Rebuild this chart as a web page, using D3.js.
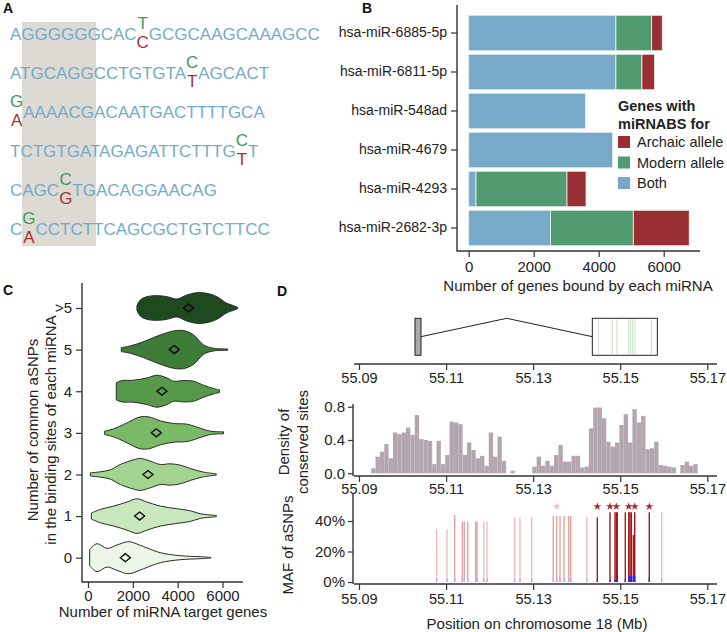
<!DOCTYPE html>
<html><head><meta charset="utf-8">
<script src="https://cdn.jsdelivr.net/npm/d3@7"></script>
<style>
body{margin:0;background:#fff}
text{font-family:"Liberation Sans",Arial,Helvetica,sans-serif}
</style>
</head><body>
<svg id="c" width="727" height="632"></svg>
<script>
// ---------------- DATA ----------------
// Panel A: sequences
const seqBefore = ["AGGGGGGCAC","ATGCAGGCCTGTGTA","","TCTGTGATAGAGATTCTTTG","CAGC","C"];
const snpModern = ["T","C","G","C","C","G"];
const snpArchaic = ["C","T","A","T","G","A"];
const seqAfter = ["GCGCAAGCAAAGCC","AGCACT","AAAACGACAATGACTTTTGCA","T","TGACAGGAACAG","CCTCTTCAGCGCTGTCTTCC"];

// Panel B
const mirnas = ["hsa-miR-6885-5p","hsa-miR-6811-5p","hsa-miR-548ad","hsa-miR-4679","hsa-miR-4293","hsa-miR-2682-3p"];
const bothCounts = [4530,4530,3590,4430,225,2520];
const modernCounts = [1100,800,0,0,2800,2545];
const archaicCounts = [325,390,0,0,585,1720];
const xTicksB = [0,2000,4000,6000];
const legendLabels = ["Archaic allele","Modern allele","Both"];

// Panel C: violin profiles [genes, density]
const snpCategories = ["0","1","2","3","4","5",">5"];
const violin0 = [[74,24],[401,42],[847,28],[1293,38],[1813,48],[2482,33],[3225,15],[4116,6],[5008,3],[5483,1]];
const violin1 = [[149,9],[550,20],[1144,30],[1739,42],[2184,52],[2630,42],[3225,30],[3968,22],[4562,16],[5008,7],[5721,2]];
const violin2 = [[104,5],[550,8],[996,14],[1441,30],[2036,44],[2333,48],[2779,40],[3225,30],[3670,32],[4116,28],[4562,18],[5157,7],[5721,2]];
const violin3 = [[743,5],[1144,12],[1590,25],[2036,40],[2333,48],[2705,48],[3225,36],[3819,28],[4413,26],[5008,14],[5454,5],[6048,3]];
const violin4 = [[1263,26],[1516,32],[2036,33],[2630,40],[3076,48],[3522,40],[3819,30],[4265,32],[4711,30],[5157,18],[5602,8],[5870,4]];
const violin5 = [[1486,6],[1887,11],[2482,24],[3225,44],[3819,56],[4265,57],[4711,44],[5157,14],[5602,4],[6226,2]];
const violin6 = [[2184,7],[2333,24],[2630,34],[3076,37],[3522,34],[3968,27],[4413,39],[4859,46],[5305,44],[5751,34],[6197,14],[6494,7],[6672,2]];
const meanTargets = [1664,2303,2675,3046,3299,3849,4487];
const xTicksC = [0,2000,4000,6000];

// Panel D
const exon1 = [55.10286,55.10424];
const intronPeak = 55.12392;
const exon2 = [55.14359,55.15852];
const siteLines = [55.14496,55.14818,55.14926,55.15195,55.15241,55.15287,55.1534,55.15714];
const densityStart = 55.0928;
const densityBin = 0.001;
const densityValues = [0.06,0.20,0.26,0.35,0.18,0.49,0.47,0.49,0.55,0.46,
  0.70,0.41,0.40,0.39,0.11,0.39,0.11,0.22,0.62,0.61,
  0.59,0.22,0.37,0.28,0.18,0.21,0.09,0.49,0.20,0.44,
  0.15,0,0.03,0,0,0,0,0.08,0.20,0.09,
  0.15,0.09,0.22,0.34,0.14,0.14,0.21,0.21,0.07,0.08,
  0.54,0.79,0.79,0.66,0.38,0.32,0.37,0.58,0.71,0.37,
  0.77,0.61,0.69,0.29,0.30,0.38,0.10,0.09,0.08,0.07,
  0,0.10,0.14,0.09,0.11];
const snpPos = [55.10785,55.11021,55.11198,55.11373,55.11419,55.11497,55.11681,55.1171,55.11864,55.1194,
  55.12576,55.12698,55.12967,55.13463,55.13541,55.13617,55.13709,55.13817,55.13863,55.1423,
  55.14474,55.14765,55.1488,55.1491,55.14933,55.15117,55.15195,55.15225,55.15255,55.15301,55.15333,55.15668,55.15953];
const snpMaf = [0.348,0.348,0.439,0.396,0.396,0.396,0.396,0.396,0.396,0.396,
  0.424,0.424,0.424,0.433,0.433,0.433,0.433,0.433,0.433,0.424,
  0.424,0.457,0.457,0.457,0.457,0.457,0.457,0.457,0.457,0.308,0.457,0.457,0.457];
const snpShade = [0,0,1,1,1,1,1,1,0,0, 0,0,0,1,1,1,1,1,1,0, 2,2,2,2,2,2,2,2,2,2,2,2,0];
const snpBlue = [0.022,0.022,0.022,0.022,0.022,0.022,0.022,0.022,0.022,0.022,
  0.022,0.022,0.022,0.022,0.022,0.022,0.022,0.022,0.022,0.022,
  0.012,0.015,0.015,0.015,0.015,0.02,0.04,0.04,0.04,0.04,0.04,0.033,0.022];
const starPos = [55.13541,55.14474,55.14765,55.1491,55.15195,55.15333,55.15668];
const starSig = [0,1,1,1,1,1,1];
const xTicksD = [55.09,55.11,55.13,55.15,55.17];
const densTicks = [0,0.4,0.8];
const mafTicks = [0,0.2,0.4];

// ---------------- DRAW ----------------
const svg = d3.select("#c");
svg.append("rect").attr("width",727).attr("height",632).attr("fill","#fff");
const ink = "#222";
const axisCol = "#333";

function panelLabel(t,x,y){
  svg.append("text").attr("x",x).attr("y",y).attr("font-weight","bold").attr("font-size",14).attr("fill","#111").text(t);
}
panelLabel("A",3,13); panelLabel("B",362,13); panelLabel("C",3,295); panelLabel("D",277,296);

// ---- Panel A ----
const blueA = "#74abcb", greenA = "#3f9a5f", redA = "#a63232";
const gA = svg.append("g");
gA.append("rect").attr("x",22).attr("y",22).attr("width",74).attr("height",224).attr("fill","#dcdad3");
seqBefore.forEach((pre,i)=>{
  const base = 40 + i*39;
  let x = 10;
  const fs = 17;
  if(pre){
    const t = gA.append("text").attr("x",x).attr("y",base).attr("font-size",fs).attr("fill",blueA).text(pre);
    x += t.node().getComputedTextLength();
  }
  const top = gA.append("text").attr("y",base-11).attr("font-size",fs).attr("fill",greenA).attr("text-anchor","middle").text(snpModern[i]);
  const bot = gA.append("text").attr("y",base+8).attr("font-size",fs).attr("fill",redA).attr("text-anchor","middle").text(snpArchaic[i]);
  const w = Math.max(top.node().getComputedTextLength(), bot.node().getComputedTextLength());
  top.attr("x",x+w/2); bot.attr("x",x+w/2);
  x += w;
  gA.append("text").attr("x",x).attr("y",base).attr("font-size",fs).attr("fill",blueA).text(seqAfter[i]);
});

// ---- Panel B ----
const colB = {Both:"#76aac8",Modern:"#529b71",Archaic:"#9a2f33"};
const xB = d3.scaleLinear().domain([0,6000]).range([468.7,663.7]);
const yB = d3.scaleBand().domain(mirnas).range([13.5,247.5]).paddingInner(0.09).paddingOuter(0.045);
const stackData = mirnas.map((m,i)=>({m,Both:bothCounts[i],Modern:modernCounts[i],Archaic:archaicCounts[i]}));
const series = d3.stack().keys(["Both","Modern","Archaic"])(stackData);
const gB = svg.append("g");
series.forEach(s=>{
  gB.selectAll(null).data(s.filter(d=>d[1]>d[0])).enter().append("rect")
    .attr("x",d=>xB(d[0])).attr("width",d=>xB(d[1])-xB(d[0]))
    .attr("y",d=>yB(d.data.m)).attr("height",yB.bandwidth())
    .attr("fill",colB[s.key]).attr("stroke","#eef3f6").attr("stroke-width",0.8);
});
const axBx = gB.append("g").attr("transform","translate(0,251)")
  .call(d3.axisBottom(xB).tickValues(xTicksB).tickSize(6).tickPadding(4).tickFormat(d3.format("d")));
const axBy = gB.append("g").attr("transform","translate(457,0)")
  .call(d3.axisLeft(yB).tickSize(6).tickPadding(4));
[axBx,axBy].forEach(a=>{a.select(".domain").remove(); a.selectAll("line").attr("stroke",axisCol).attr("stroke-width",1.2); a.selectAll("text").attr("fill",ink).attr("font-family","Liberation Sans, Arial, sans-serif");});
axBx.selectAll("text").attr("font-size",15);
axBy.selectAll("text").attr("font-size",14);
gB.append("path").attr("d","M457,5V251H700").attr("fill","none").attr("stroke",axisCol).attr("stroke-width",1.4);
gB.append("text").attr("x",578).attr("y",291).attr("text-anchor","middle").attr("font-size",15).attr("fill",ink).text("Number of genes bound by each miRNA");
const leg = gB.append("g");
leg.append("text").attr("x",618).attr("y",111).attr("font-size",14.5).attr("font-weight","bold").attr("fill",ink).text("Genes with");
leg.append("text").attr("x",618).attr("y",129).attr("font-size",14.5).attr("font-weight","bold").attr("fill",ink).text("miRNABS for");
const legKeys = ["Archaic","Modern","Both"];
legKeys.forEach((k,i)=>{
  const cy = 142 + i*20.5;
  leg.append("rect").attr("x",618).attr("y",cy-6).attr("width",12).attr("height",12).attr("fill",colB[k]);
  leg.append("text").attr("x",637).attr("y",cy+5).attr("font-size",14.5).attr("fill",ink).text(legendLabels[i]);
});

// ---- Panel C ----
const violins = [violin0,violin1,violin2,violin3,violin4,violin5,violin6];
const fillsC = ["#edf7e7","#c9e7bd","#a3d48f","#7aba66","#57994b","#3d7d37","#1f4a20"];
const xC = d3.scaleLinear().domain([0,6000]).range([88,222.5]);
const yC = d3.scalePoint().domain(snpCategories).range([557.7,308]);
const wC = d3.scaleLinear().domain([0,57]).range([0,19]);
const gC = svg.append("g");
snpCategories.forEach((c,i)=>{
  const yc = yC(c);
  const area = d3.area().x(d=>xC(d[0])).y0(d=>yc-wC(d[1])).y1(d=>yc+wC(d[1])).curve(d3.curveCatmullRom);
  gC.append("path").attr("d",area(violins[i])).attr("fill",fillsC[i]).attr("stroke","#2b2b2b").attr("stroke-width",1);
  const mx = xC(meanTargets[i]);
  gC.append("path").attr("d",`M${mx-5},${yc}L${mx},${yc-4}L${mx+5},${yc}L${mx},${yc+4}Z`)
    .attr("fill","none").attr("stroke","#000").attr("stroke-width",1.3);
});
const axCx = gC.append("g").attr("transform","translate(0,582)")
  .call(d3.axisBottom(xC).tickValues(xTicksC).tickSize(6).tickPadding(2).tickFormat(d3.format("d")));
const axCy = gC.append("g").attr("transform","translate(82,0)")
  .call(d3.axisLeft(yC).tickSize(6).tickPadding(4));
[axCx,axCy].forEach(a=>{a.select(".domain").remove(); a.selectAll("line").attr("stroke",axisCol).attr("stroke-width",1.2); a.selectAll("text").attr("fill",ink).attr("font-size",15).attr("font-family","Liberation Sans, Arial, sans-serif");});
gC.append("path").attr("d","M82,283V582H243").attr("fill","none").attr("stroke",axisCol).attr("stroke-width",1.4);
gC.append("text").attr("x",163).attr("y",617).attr("text-anchor","middle").attr("font-size",15).attr("fill",ink).text("Number of miRNA target genes");
gC.append("text").attr("transform","translate(37.5,430) rotate(-90)").attr("text-anchor","middle").attr("font-size",15).attr("fill",ink).text("Number of common aSNPs");
gC.append("text").attr("transform","translate(55.5,430) rotate(-90)").attr("text-anchor","middle").attr("font-size",15).attr("fill",ink).text("in the binding sites of each miRNA");

// ---- Panel D ----
const xD = d3.scaleLinear().domain([55.09,55.17]).range([359,707.3]);
const gD = svg.append("g");
function xAxisD(y,pad){
  const a = gD.append("g").attr("transform",`translate(0,${y})`)
    .call(d3.axisBottom(xD).tickValues(xTicksD).tickSize(6).tickPadding(pad).tickFormat(d3.format(".2f")));
  a.select(".domain").remove();
  a.selectAll("line").attr("stroke",axisCol).attr("stroke-width",1.2);
  a.selectAll("text").attr("fill",ink).attr("font-size",14.5).attr("font-family","Liberation Sans, Arial, sans-serif");
  gD.append("line").attr("x1",354).attr("x2",717).attr("y1",y).attr("y2",y).attr("stroke",axisCol).attr("stroke-width",1.4);
}
// gene structure
const gy0 = 318.3, gy1 = 355.3, gmid = 336.7;
gD.append("path").attr("d",`M${xD(exon1[1])},${gmid}L${xD(intronPeak)},${gy0}L${xD(exon2[0])},${gmid}`).attr("fill","none").attr("stroke","#222").attr("stroke-width",1);
gD.append("rect").attr("x",xD(exon1[0])).attr("y",gy0).attr("width",xD(exon1[1])-xD(exon1[0])).attr("height",gy1-gy0).attr("fill","#aaa").attr("stroke","#222").attr("stroke-width",1);
gD.append("rect").attr("x",xD(exon2[0])).attr("y",gy0).attr("width",xD(exon2[1])-xD(exon2[0])).attr("height",gy1-gy0).attr("fill","#fff").attr("stroke","#222").attr("stroke-width",1);
gD.selectAll(null).data(siteLines).enter().append("line")
  .attr("x1",d=>xD(d)).attr("x2",d=>xD(d)).attr("y1",gy0+1).attr("y2",gy1-1).attr("stroke","#b9d8b6").attr("stroke-width",0.8);
xAxisD(364,3);

// density histogram
const yDen = d3.scaleLinear().domain([0,0.8]).range([473.3,406.7]);
gD.selectAll(null).data(densityValues.map((v,k)=>({v,s:densityStart+k*densityBin})).filter(d=>d.v>0)).enter().append("rect")
  .attr("x",d=>xD(d.s)).attr("width",d=>xD(d.s+densityBin)-xD(d.s))
  .attr("y",d=>yDen(d.v)).attr("height",d=>yDen(0)-yDen(d.v)).attr("fill","#b4a6ae");
xAxisD(476,2);
const ayDen = gD.append("g").attr("transform","translate(353,0)").call(d3.axisLeft(yDen).tickValues(densTicks).tickSize(5).tickPadding(3).tickFormat(d3.format(".1f")));
ayDen.select(".domain").remove();
ayDen.selectAll("line").attr("stroke",axisCol).attr("stroke-width",1.2);
ayDen.selectAll("text").attr("fill",ink).attr("font-size",15).attr("font-family","Liberation Sans, Arial, sans-serif");
gD.append("line").attr("x1",353).attr("x2",353).attr("y1",404).attr("y2",476).attr("stroke",axisCol).attr("stroke-width",1.4);
gD.append("text").attr("transform","translate(289,442) rotate(-90)").attr("text-anchor","middle").attr("font-size",15).attr("fill",ink).text("Density of");
gD.append("text").attr("transform","translate(308,442) rotate(-90)").attr("text-anchor","middle").attr("font-size",15).attr("fill",ink).text("conserved sites");

// MAF
const yMaf = d3.scaleLinear().domain([0,0.4]).range([582,521]);
const shadeCol = ["#f3bcbc","#e6a0a0","#a3161a"];
const blueCol = ["#a9a9ff","#a9a9ff","#2a2ae8"];
snpPos.forEach((p,i)=>{
  const x = xD(p);
  gD.append("line").attr("x1",x).attr("x2",x).attr("y1",yMaf(snpMaf[i])).attr("y2",yMaf(0)).attr("stroke",shadeCol[snpShade[i]]).attr("stroke-width",1.4);
  gD.append("line").attr("x1",x).attr("x2",x).attr("y1",yMaf(snpBlue[i])).attr("y2",yMaf(0)).attr("stroke",blueCol[snpShade[i]]).attr("stroke-width",1.4);
});
starPos.forEach((p,i)=>{
  gD.append("path").attr("d",d3.symbol().type(d3.symbolStar).size(20)())
    .attr("transform",`translate(${xD(p)},506.5)`).attr("fill",starSig[i]?"#b0262a":"#f3bcbc");
});
xAxisD(584,4);
const ayMaf = gD.append("g").attr("transform","translate(353,0)").call(d3.axisLeft(yMaf).tickValues(mafTicks).tickSize(5).tickPadding(3).tickFormat(d3.format(".0%")));
ayMaf.select(".domain").remove();
ayMaf.selectAll("line").attr("stroke",axisCol).attr("stroke-width",1.2);
ayMaf.selectAll("text").attr("fill",ink).attr("font-size",15).attr("font-family","Liberation Sans, Arial, sans-serif");
gD.append("line").attr("x1",353).attr("x2",353).attr("y1",494).attr("y2",584).attr("stroke",axisCol).attr("stroke-width",1.4);
gD.append("text").attr("transform","translate(293,545) rotate(-90)").attr("text-anchor","middle").attr("font-size",15).attr("fill",ink).text("MAF of aSNPs");
gD.append("text").attr("x",537).attr("y",629).attr("text-anchor","middle").attr("font-size",15).attr("fill",ink).text("Position on chromosome 18 (Mb)");
</script>
</body></html>
